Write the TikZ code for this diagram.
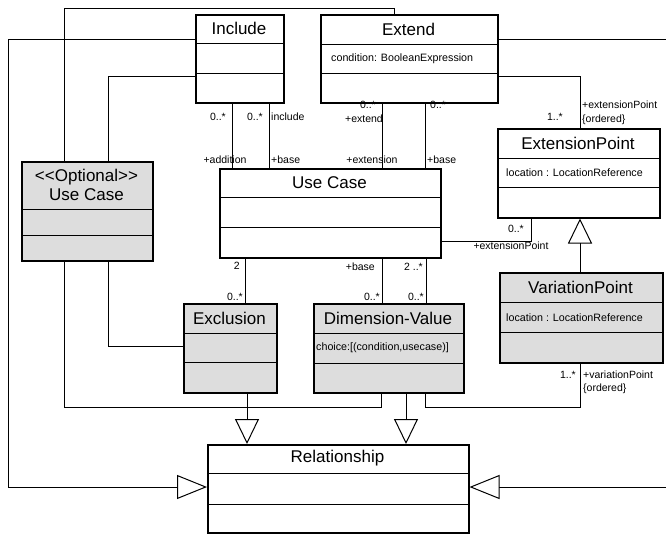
\documentclass[tikz,border=0pt]{standalone}
\usepackage{fontspec}
\setmainfont{Liberation Sans}
\usetikzlibrary{positioning}
\usetikzlibrary{calc}
\usetikzlibrary{arrows.meta}

\definecolor{classgray}{RGB}{221,221,221}

\begin{document}
\begin{tikzpicture}[x=1pt,y=-1pt,
    cls/.style={draw, line width=1.5pt, anchor=north west, inner sep=0pt},
    part/.style={line width=0.9pt},
    title/.style={font=\fontsize{17}{19}\selectfont, inner sep=0pt, align=center},
    attr/.style={font=\fontsize{10.7}{12}\selectfont, anchor=west, inner sep=0pt},
    lbl/.style={font=\fontsize{10.5}{12}\selectfont, inner sep=0pt},
    assoc/.style={line width=1pt},
    gen/.style={line width=1pt, -{Triangle[open, length=25pt, width=24pt]}},
    genside/.style={line width=1pt, -{Triangle[open, length=30pt, width=24pt]}}]
    \clip (0,0) rectangle (666,533);
    \fill[white] (0,0) rectangle (666,533);

    % classes
    \node[cls, minimum width=88pt, minimum height=88pt] (inc) at (195,14) {};
    \draw[part] (inc.west |- 0,43) -- (inc.east |- 0,43);
    \draw[part] (inc.west |- 0,73) -- (inc.east |- 0,73);
    \node[title] (inc-t) at (239,28.5) {Include};

    \node[cls, minimum width=177pt, minimum height=88pt] (ext) at (320,14) {};
    \draw[part] (ext.west |- 0,44) -- (ext.east |- 0,44);
    \draw[part] (ext.west |- 0,73) -- (ext.east |- 0,73);
    \node[title] (ext-t) at (408.5,29) {Extend};
    \node[attr] (ext-a) at (331,59) {condition: BooleanExpression};

    \node[cls, minimum width=162pt, minimum height=89pt] (ept) at (497,128) {};
    \draw[part] (ept.west |- 0,158) -- (ept.east |- 0,158);
    \draw[part] (ept.west |- 0,187) -- (ept.east |- 0,187);
    \node[title] (ept-t) at (578,143) {ExtensionPoint};
    \node[attr] (ept-a) at (506,172.5) {location : LocationReference};

    \node[cls, minimum width=221pt, minimum height=89pt] (uc) at (219,168) {};
    \draw[part] (uc.west |- 0,197) -- (uc.east |- 0,197);
    \draw[part] (uc.west |- 0,227) -- (uc.east |- 0,227);
    \node[title] (uc-t) at (329.5,182.5) {Use Case};

    \node[cls, fill=classgray, minimum width=131pt, minimum height=99pt] (opt) at (21,161) {};
    \draw[part] (opt.west |- 0,209) -- (opt.east |- 0,209);
    \draw[part] (opt.west |- 0,235) -- (opt.east |- 0,235);
    \node[title] (opt-t) at (86.5,185) {<\kern0pt<Optional>\kern0pt>\\Use Case};

    \node[cls, fill=classgray, minimum width=93pt, minimum height=89pt] (excl) at (183,303) {};
    \draw[part] (excl.west |- 0,333) -- (excl.east |- 0,333);
    \draw[part] (excl.west |- 0,362) -- (excl.east |- 0,362);
    \node[title] (excl-t) at (229.5,318) {Exclusion};

    \node[cls, fill=classgray, minimum width=150pt, minimum height=89pt] (dv) at (313,303) {};
    \draw[part] (dv.west |- 0,333) -- (dv.east |- 0,333);
    \draw[part] (dv.west |- 0,363) -- (dv.east |- 0,363);
    \node[title] (dv-t) at (388,318) {Dimension-Value};
    \node[attr] (dv-a) at (316,348) {choice:[(condition,usecase)]};

    \node[cls, fill=classgray, minimum width=163pt, minimum height=90pt] (vp) at (499,272) {};
    \draw[part] (vp.west |- 0,302) -- (vp.east |- 0,302);
    \draw[part] (vp.west |- 0,332) -- (vp.east |- 0,332);
    \node[title] (vp-t) at (580.5,287) {VariationPoint};
    \node[attr] (vp-a) at (506,317.5) {location : LocationReference};

    \node[cls, minimum width=261pt, minimum height=88pt] (rel) at (207,444) {};
    \draw[part] (rel.west |- 0,473) -- (rel.east |- 0,473);
    \draw[part] (rel.west |- 0,504) -- (rel.east |- 0,504);
    \node[title] (rel-t) at (337.5,458.5) {Relationship};

    % associations
    \draw[assoc] (64,0 |- opt.north) |- (394,8) -- (394,0 |- ext.north);
    \draw[assoc] (108,0 |- opt.north) |- (inc.west |- 0,76);
    \draw[assoc] (ext.east |- 0,76) -| (580,0 |- ept.north);
    \draw[assoc] (232,0 |- inc.south) -- (232,0 |- uc.north);
    \draw[assoc] (269,0 |- inc.south) -- (269,0 |- uc.north);
    \draw[assoc] (382,0 |- ext.south) -- (382,0 |- uc.north);
    \draw[assoc] (425,0 |- ext.south) -- (425,0 |- uc.north);
    \draw[assoc] (uc.east |- 0,241) -| (531,0 |- ept.south);
    \draw[assoc] (245,0 |- uc.south) -- (245,0 |- excl.north);
    \draw[assoc] (382,0 |- uc.south) -- (382,0 |- dv.north);
    \draw[assoc] (426,0 |- uc.south) -- (426,0 |- dv.north);
    \draw[assoc] (108,0 |- opt.south) |- (excl.west |- 0,346);
    \draw[assoc] (64,0 |- opt.south) |- (381,407) -- (381,0 |- dv.south);
    \draw[assoc] (425,0 |- dv.south) |- (580,407) -- (580,0 |- vp.south);

    % generalizations
    \draw[genside] (inc.west |- 0,39) -| (8,487) -- (rel.west |- 0,487);
    \draw[genside] (ext.east |- 0,39) -| (690,487) -- (rel.east |- 0,487);
    \draw[gen] (247,0 |- excl.south) -- (247,0 |- rel.north);
    \draw[gen] (406,0 |- dv.south) -- (406,0 |- rel.north);
    \draw[gen] (580,0 |- vp.north) -- (580,0 |- ept.south);

    % association ends
    \node[lbl, anchor=east] (inc-m1) at (226,117) {0..*};
    \node[lbl, anchor=east] (inc-m2) at (263,117) {0..*};
    \node[lbl, anchor=west] (inc-n) at (271,117) {include};
    \node[lbl] (uc-add) at (225,160) {+addition};
    \node[lbl, anchor=west] (uc-base1) at (271,160) {+base};
    \node[lbl, anchor=east] (ext-m1) at (376,105) {0..*};
    \node[lbl, anchor=east] (ext-r) at (383,119) {+extend};
    \node[lbl, anchor=west] (ext-m2) at (430,105) {0..*};
    \node[lbl] (uc-extn) at (372,160) {+extension};
    \node[lbl, anchor=west] (uc-base2) at (427,160) {+base};
    \node[lbl, anchor=east] (ept-m1) at (563,117) {1..*};
    \node[lbl, anchor=west] (ept-r1) at (582,105) {+extensionPoint};
    \node[lbl, anchor=west] (ept-o1) at (582,120) {\{ordered\}};
    \node[lbl, anchor=east] (ept-m2) at (524,229) {0..*};
    \node[lbl] (ept-r2) at (511,246) {+extensionPoint};
    \node[lbl, anchor=east] (excl-m1) at (240,266) {2};
    \node[lbl, anchor=east] (excl-m2) at (243,297) {0..*};
    \node[lbl, anchor=east] (dv-base) at (375,267) {+base};
    \node[lbl, anchor=east] (dv-m1) at (380,297) {0..*};
    \node[lbl, anchor=east] (dv-m2) at (423,267) {2 ..*};
    \node[lbl, anchor=east] (dv-m3) at (424,297) {0..*};
    \node[lbl, anchor=east] (vp-m1) at (576,375) {1..*};
    \node[lbl, anchor=west] (vp-r) at (583,375) {+variationPoint};
    \node[lbl, anchor=west] (vp-o) at (583,389) {\{ordered\}};
\end{tikzpicture}
\end{document}
